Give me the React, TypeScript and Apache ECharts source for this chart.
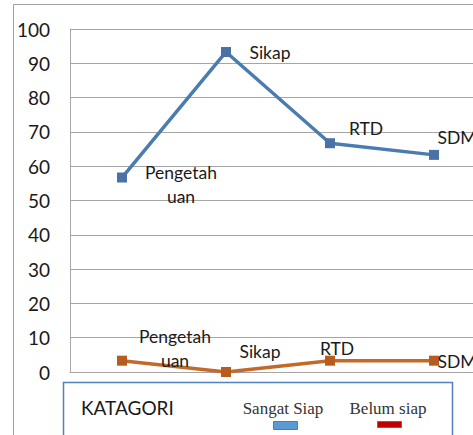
import React, { useEffect, useRef } from "react";
import * as echarts from "echarts";

const categories = ["Pengetahuan", "Sikap", "RTD", "SDM"];
const sangatSiap = [56.7, 93.3, 66.7, 63.3];
const belumSiap = [3.3, 0, 3.3, 3.3];
const yTicks = { min: 0, max: 100, interval: 10 };
const legendTitle = "KATAGORI";
const seriesNames = ["Sangat Siap", "Belum siap"];

// label offsets (styling only)
const upperOffsets = [[59, 7], [44, 1], [36, -15], [23, -17]];
const lowerOffsets = [[53, -12], [34, -21], [7, -12], [23, 1]];

const wrapName = (n: string) => (n === "Pengetahuan" ? "Pengetah\nuan" : n);

export default function App() {
  const ref = useRef<HTMLDivElement>(null);
  useEffect(() => {
    if (!ref.current) return;
    const chart = echarts.init(ref.current, undefined, { renderer: "svg" });
    const mkData = (vals: number[], offs: number[][]) =>
      vals.map((v, i) => ({
        value: v,
        label: {
          show: true,
          position: "inside",
          offset: offs[i],
          align: "center",
          verticalAlign: "middle",
          formatter: () => wrapName(categories[i]),
        },
      }));
    const labelStyle = {
      fontFamily: "Lato",
      fontSize: 17.5,
      color: "#1a1a1a",
      lineHeight: 24,
    };
    chart.setOption({
      animation: false,
      grid: { left: 70, top: 29, width: 416, bottom: 63, outerBoundsMode: "none", containLabel: false },
      xAxis: {
        type: "category",
        data: categories,
        boundaryGap: true,
        axisLine: { show: true, lineStyle: { color: "#a6a6a6", width: 1 } },
        axisTick: { show: false },
        axisLabel: { show: false },
      },
      yAxis: {
        type: "value",
        min: yTicks.min,
        max: yTicks.max,
        interval: yTicks.interval,
        axisLine: { show: true, lineStyle: { color: "#a6a6a6", width: 1 } },
        axisTick: { show: false },
        axisLabel: {
          fontFamily: "Lato",
          fontSize: 19,
          color: "#1a1a1a",
          margin: 20,
        },
        splitLine: { lineStyle: { color: "#a6a6a6", width: 1 } },
      },
      series: [
        {
          name: seriesNames[0],
          type: "line",
          data: mkData(sangatSiap, upperOffsets),
          symbol: "rect",
          symbolSize: 10,
          lineStyle: { color: "#4a7cb0", width: 3.5 },
          itemStyle: { color: "#4a72a6" },
          label: labelStyle,
          z: 3,
        },
        {
          name: seriesNames[1],
          type: "line",
          data: mkData(belumSiap, lowerOffsets),
          symbol: "rect",
          symbolSize: 10,
          lineStyle: { color: "#c36a2b", width: 3.5 },
          itemStyle: { color: "#b85b1e" },
          label: labelStyle,
          z: 3,
        },
      ],
      graphic: [
        {
          type: "rect",
          shape: { x: 13.5, y: 4.5, width: 600, height: 600 },
          style: { fill: "none", stroke: "#a0a0a0", lineWidth: 1 },
          z: -1,
          silent: true,
        },
        {
          type: "rect",
          shape: { x: 63.5, y: 382.5, width: 389, height: 80 },
          style: { fill: "#fff", stroke: "#4f81bd", lineWidth: 1.5 },
          z: 5,
        },
        {
          type: "text",
          x: 81,
          y: 407,
          style: {
            text: legendTitle,
            fontFamily: "Lato",
            fontSize: 19,
            fill: "#1a1a1a",
            verticalAlign: "middle",
          },
          z: 6,
        },
        {
          type: "text",
          x: 283,
          y: 408,
          style: {
            text: seriesNames[0],
            fontFamily: "Liberation Serif",
            fontSize: 17,
            fill: "#333",
            align: "center",
            verticalAlign: "middle",
          },
          z: 6,
        },
        {
          type: "rect",
          shape: { x: 273.5, y: 421.5, width: 24, height: 8 },
          style: { fill: "#5b9bd5", stroke: "#4a7eb0", lineWidth: 1 },
          z: 6,
        },
        {
          type: "text",
          x: 388,
          y: 408,
          style: {
            text: seriesNames[1],
            fontFamily: "Liberation Serif",
            fontSize: 17,
            fill: "#333",
            align: "center",
            verticalAlign: "middle",
          },
          z: 6,
        },
        {
          type: "rect",
          shape: { x: 377.5, y: 421.5, width: 24, height: 6 },
          style: { fill: "#c00000", stroke: "#4f6f9f", lineWidth: 1 },
          z: 6,
        },
      ],
    });
    return () => chart.dispose();
  }, []);
  return (
    <div
      ref={ref}
      style={{ position: "fixed", left: 0, top: 0, width: 473, height: 435, background: "#fff" }}
    />
  );
}
